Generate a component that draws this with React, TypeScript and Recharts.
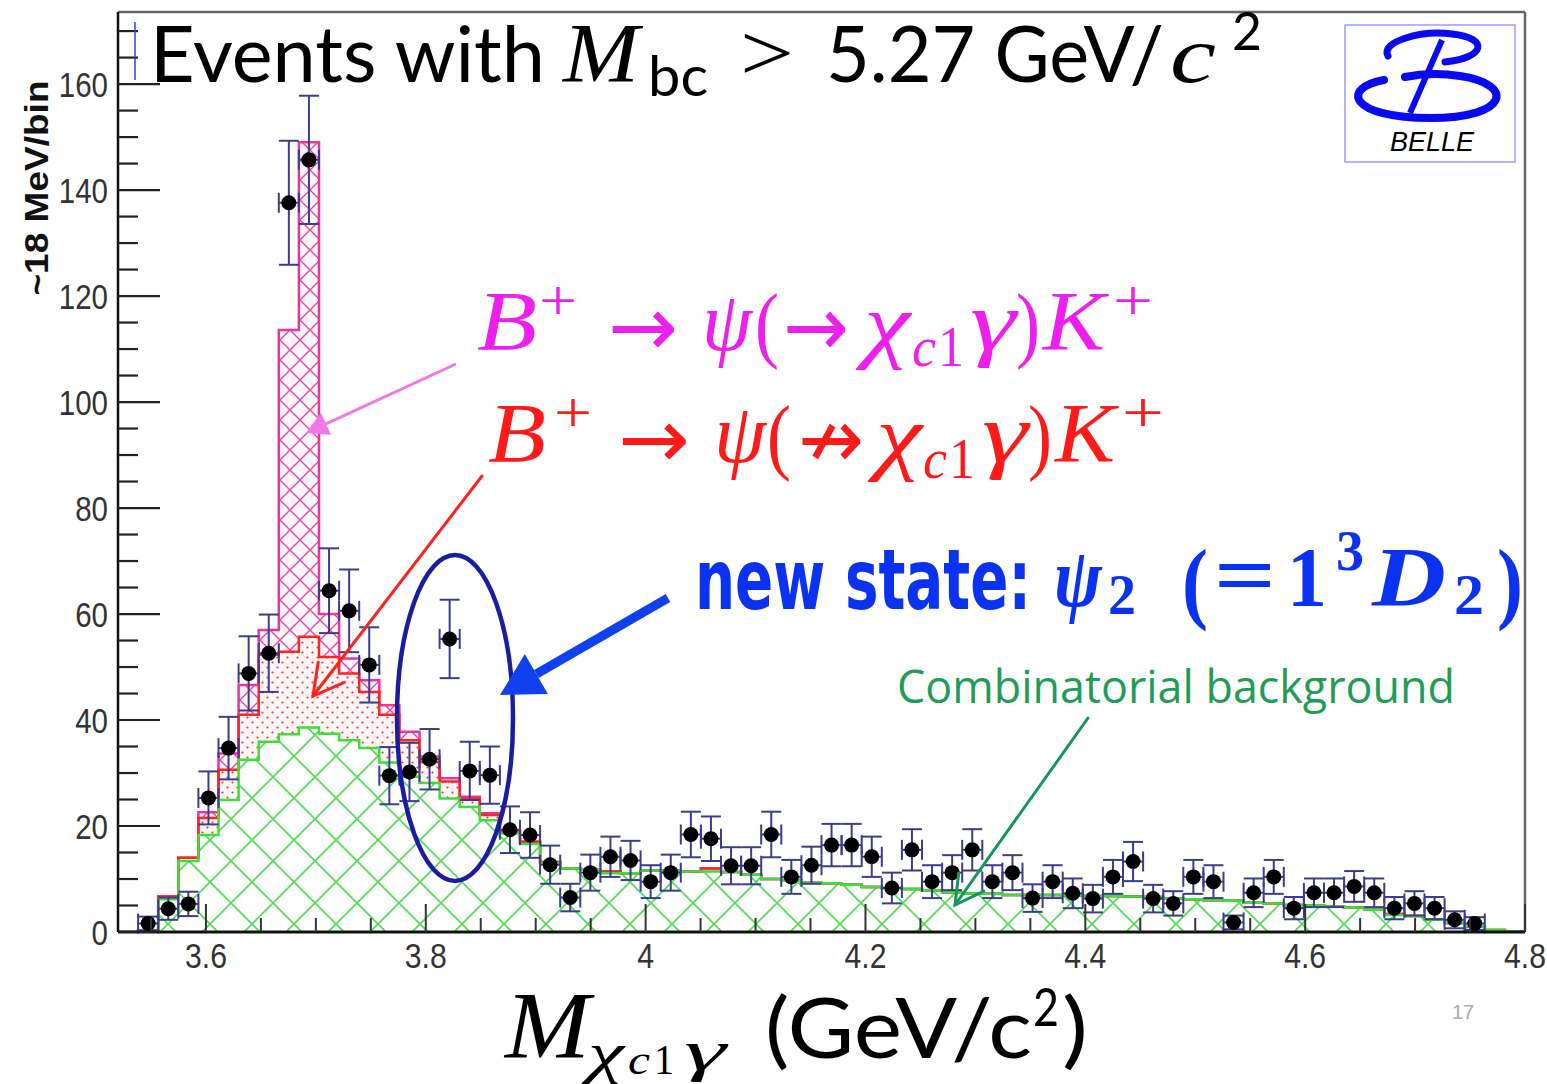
import React from 'react';
import { ComposedChart, Area, Line, Scatter, ErrorBar, XAxis, YAxis, ReferenceLine } from 'recharts';

// ---------- data ----------
const BIN_START = 3.52;
const BIN_END = 4.8;
const N_BINS = 70;

// Combinatorial background (green), per bin
const bkgBins = [
  0, 0.3, 6.2, 13.4, 18.3, 24.9, 32.5, 35.9, 37.3, 38.6,
  37.4, 36.2, 34.7, 32.0, 29.3, 28.1, 25.2, 23.6, 21.1, 18.6,
  16.6, 13.0, 12.0, 11.8, 11.1, 11.1, 11.6, 11.6, 11.4, 11.4,
  11.3, 10.8, 10.0, 9.8, 9.3, 9.2, 8.9, 8.5, 8.3, 8.1,
  7.9, 7.5, 7.3, 7.2, 7.0, 7.0, 7.0, 6.9, 6.8, 6.8,
  6.7, 6.6, 6.3, 6.2, 6.0, 5.9, 5.5, 5.4, 5.1, 5.0,
  4.8, 4.6, 4.2, 3.2, 3.0, 2.3, 1.7, 1.1, 0.4, 0.1,
];
// B+ -> psi(-/-> chi_c1 gamma) K+ (red), per bin
const psiNoChiBins = [
  0, 0, 0.5, 0.6, 3.2, 5.7, 8.5, 16.4, 15.6, 17.1,
  14.5, 12.6, 10.6, 9.0, 6.9, 4.0, 3.2, 1.6, 1.0, 0.3,
  0.4, 0.2, 0, 0, 0.3, 0, 0, 0, 0, 0.6,
  0, 0, 0, 0, 0, 0, 0, 0, 0, 0,
  0, 0, 0, 0, 0, 0, 0, 0, 0, 0,
  0, 0, 0, 0, 0, 0, 0, 0, 0, 0,
  0, 0, 0, 0.2, 0, 0, 0, 0, 0, 0,
];
// B+ -> psi(-> chi_c1 gamma) K+ (magenta), per bin
const psiChiBins = [
  0, 0, 0, 0, 1.1, 3.1, 5.6, 4.7, 60.7, 93.3,
  8.1, 2.8, 2.2, 1.8, 1.6, 1.0, 0.6, 0.3, 0.3, 0.1,
  0.1, 0, 0, 0, 0, 0, 0, 0, 0, 0,
  0, 0, 0, 0, 0, 0, 0, 0, 0, 0,
  0, 0, 0, 0, 0, 0, 0, 0, 0, 0,
  0, 0, 0, 0, 0, 0, 0, 0, 0, 0,
  0, 0, 0, 0, 0, 0, 0, 0, 0, 0,
];

// Data points: first point sits in bin index 1
const POINT_FIRST_BIN = 1;
const pointValues = [
  1.6, 4.4, 5.3, 25.3, 34.7, 48.8, 52.6, 137.6, 145.7, 64.4,
  60.6, 50.4, 29.5, 30.2, 32.6, 55.3, 30.4, 29.6, 19.3, 18.3,
  12.7, 6.5, 11.2, 14.2, 13.5, 9.5, 11.2, 18.4, 17.6, 12.5,
  12.5, 18.4, 10.4, 12.6, 16.4, 16.4, 14.2, 8.3, 15.5, 9.5,
  11.2, 15.5, 9.5, 11.2, 6.4, 9.5, 7.3, 6.3, 10.4, 13.3,
  6.3, 5.4, 10.4, 9.5, 1.8, 7.4, 10.4, 4.5, 7.4, 7.4,
  8.6, 7.4, 4.5, 5.4, 4.5, 2.3, 1.6,
];
const pointErrors = [
  1.3, 2.1, 2.3, 5.0, 5.9, 7.0, 7.3, 11.7, 12.1, 8.0,
  7.8, 7.1, 5.4, 5.5, 5.7, 7.4, 5.5, 5.4, 4.4, 4.3,
  3.6, 2.6, 3.4, 3.8, 3.7, 3.1, 3.4, 4.3, 4.2, 3.5,
  3.5, 4.3, 3.2, 3.5, 4.0, 4.0, 3.8, 2.9, 3.9, 3.1,
  3.3, 3.9, 3.1, 3.3, 2.6, 3.1, 2.8, 2.6, 3.2, 3.7,
  2.6, 2.3, 3.2, 3.1, 1.3, 2.7, 3.2, 2.1, 2.7, 2.7,
  2.9, 2.7, 2.1, 2.3, 2.1, 1.6, 1.2,
];

const yTickValues = [0, 5, 10, 15, 20, 25, 30, 35, 40, 45, 50, 55, 60, 65, 70, 75, 80, 85, 90, 95, 100, 105, 110, 115, 120, 125, 130, 135, 140, 145, 150, 155, 160, 165, 170];
const yMajorTicks = [0, 20, 40, 60, 80, 100, 120, 140, 160];
const xTickValues = [3.55, 3.6, 3.65, 3.7, 3.75, 3.8, 3.85, 3.9, 3.95, 4.0, 4.05, 4.1, 4.15, 4.2, 4.25, 4.3, 4.35, 4.4, 4.45, 4.5, 4.55, 4.6, 4.65, 4.7, 4.75, 4.8];
const xMajorTicks = [3.6, 3.8, 4.0, 4.2, 4.4, 4.6, 4.8];
const xMajorLabels = ['3.6', '3.8', '4', '4.2', '4.4', '4.6', '4.8'];
const Y_MAX = 173.6;

// ---------- tables built from the arrays ----------
const binWidth = (BIN_END - BIN_START) / N_BINS;
const histRows = bkgBins.map((b, i) => ({
  x: BIN_START + i * binWidth,
  bkg: b,
  red: psiNoChiBins[i],
  mag: psiChiBins[i],
  redTot: b + psiNoChiBins[i],
  magTot: b + psiNoChiBins[i] + psiChiBins[i],
}));
histRows.push({ ...histRows[histRows.length - 1], x: BIN_END });

const points = pointValues.map((v, j) => ({
  x: BIN_START + (POINT_FIRST_BIN + j + 0.5) * binWidth,
  y: v,
  ey: pointErrors[j],
  ex: binWidth / 2,
}));

// ---------- ticks ----------
const YTick = (props: any) => {
  const { x, y, payload } = props;
  const v = payload.value;
  const major = yMajorTicks.includes(v);
  return (
    <g>
      <line x1={x} x2={x + (major ? 42 : 20)} y1={y} y2={y} stroke="#222" strokeWidth={2.2} />
      {major && (
        <text
          transform={`translate(${x - 10},${y}) scale(0.82,1)`}
          textAnchor="end"
          dominantBaseline="central"
          fontSize={36}
          fontFamily="'Liberation Sans', Arial, sans-serif"
          fill="#333"
        >
          {v}
        </text>
      )}
    </g>
  );
};

const XTick = (props: any) => {
  const { x, y, payload } = props;
  const v = payload.value;
  const idx = xMajorTicks.findIndex((m) => Math.abs(m - v) < 1e-6);
  const major = idx >= 0;
  return (
    <g>
      <line x1={x} x2={x} y1={y} y2={y - (major ? 28 : 14)} stroke="#333" strokeWidth={2} />
      {major && (
        <text
          transform={`translate(${x},${y + 24}) scale(0.84,1)`}
          textAnchor="middle"
          dominantBaseline="central"
          fontSize={36}
          fontFamily="'Liberation Sans', Arial, sans-serif"
          fill="#333"
        >
          {xMajorLabels[idx]}
        </text>
      )}
    </g>
  );
};

const Dot = (p: any) => <circle cx={p.cx} cy={p.cy} r={7.5} fill="#000" />;

// ---------- annotation helpers ----------
function Arrow({ x1, y1, x2, y2, color, w, head, filled }: any) {
  const a = Math.atan2(y2 - y1, x2 - x1);
  const hl = head;
  const hw = head * 0.55;
  const bx = x2 - hl * Math.cos(a);
  const by = y2 - hl * Math.sin(a);
  const lx = bx + hw * Math.sin(a);
  const ly = by - hw * Math.cos(a);
  const rx = bx - hw * Math.sin(a);
  const ry = by + hw * Math.cos(a);
  if (filled) {
    return (
      <g>
        <line x1={x1} y1={y1} x2={bx} y2={by} stroke={color} strokeWidth={w} />
        <polygon points={`${x2},${y2} ${lx},${ly} ${rx},${ry}`} fill={color} />
      </g>
    );
  }
  return (
    <g fill="none" stroke={color} strokeWidth={w} strokeLinecap="round">
      <line x1={x1} y1={y1} x2={x2} y2={y2} />
      <polyline points={`${lx},${ly} ${x2},${y2} ${rx},${ry}`} />
    </g>
  );
}

const SERIF = "'Liberation Serif', 'Times New Roman', serif";
const GILL = "Lato, 'Open Sans', sans-serif";
const ARROWF = "'DejaVu Sans', sans-serif";

// one piece of text, stretched to a given width
function T({ x, y, s, w, it, bold, fam, fill, children }: any) {
  return (
    <text
      x={x}
      y={y}
      fontSize={s}
      fontStyle={it ? 'italic' : 'normal'}
      fontWeight={bold ? 'bold' : 'normal'}
      fontFamily={fam || SERIF}
      fill={fill}
      textLength={w}
      lengthAdjust="spacingAndGlyphs"
    >
      {children}
    </text>
  );
}

function Overlay() {
  const MAG = '#ee1fee';
  const RED = '#ff1a1a';
  const BLUE = '#0b32f0';
  return (
    <svg
      width={1547}
      height={1084}
      style={{ position: 'absolute', left: 0, top: 0, pointerEvents: 'none' }}
    >
      {/* y axis title */}
      <text
        transform="translate(48,188) rotate(-90)"
        textAnchor="middle"
        fontSize={34}
        fontWeight="bold"
        fontFamily="'Liberation Sans', Arial, sans-serif"
        fill="#111"
        textLength={215}
        lengthAdjust="spacingAndGlyphs"
      >
        ~18 MeV/bin
      </text>

      {/* title */}
      <T x={150} y={82} s={78} w={395} fam={GILL} fill="#000">Events with</T>
      <T x={563} y={82} s={84} w={76} it fill="#000">M</T>
      <T x={648} y={96} s={56} w={60} fam={GILL} fill="#000">bc</T>
      <T x={740} y={80} s={80} w={54} fill="#000">&gt;</T>
      <T x={826} y={82} s={78} w={338} fam={GILL} fill="#000">5.27 GeV/</T>
      <T x={1170} y={82} s={80} w={46} it fill="#000">c</T>
      <T x={1232} y={50} s={52} w={30} fam={GILL} fill="#000">2</T>

      {/* magenta label */}
      <T x={477} y={350} s={84} w={60} it fill={MAG}>B</T>
      <T x={539} y={320} s={56} w={38} fill={MAG}>+</T>
      <T x={608} y={356} s={84} w={70} fam={ARROWF} fill={MAG}>→</T>
      <T x={702} y={350} s={84} w={50} it fill={MAG}>ψ</T>
      <T x={755} y={352} s={84} w={24} fill={MAG}>(</T>
      <T x={783} y={356} s={84} w={66} fam={ARROWF} fill={MAG}>→</T>
      <T x={864} y={352} s={84} w={46} it fill={MAG}>χ</T>
      <T x={912} y={366} s={56} w={24} it fill={MAG}>c</T>
      <T x={938} y={366} s={56} w={26} fill={MAG}>1</T>
      <T x={970} y={350} s={84} w={46} it fill={MAG}>γ</T>
      <T x={1016} y={352} s={84} w={24} fill={MAG}>)</T>
      <T x={1043} y={350} s={84} w={62} it fill={MAG}>K</T>
      <T x={1113} y={320} s={56} w={40} fill={MAG}>+</T>

      {/* red label */}
      <T x={488} y={462} s={84} w={58} it fill={RED}>B</T>
      <T x={554} y={432} s={56} w={38} fill={RED}>+</T>
      <T x={618} y={468} s={84} w={72} fam={ARROWF} fill={RED}>→</T>
      <T x={714} y={462} s={84} w={52} it fill={RED}>ψ</T>
      <T x={767} y={464} s={84} w={24} fill={RED}>(</T>
      <T x={798} y={468} s={84} w={66} fam={ARROWF} fill={RED}>↛</T>
      <T x={876} y={464} s={84} w={46} it fill={RED}>χ</T>
      <T x={923} y={478} s={56} w={24} it fill={RED}>c</T>
      <T x={949} y={478} s={56} w={26} fill={RED}>1</T>
      <T x={982} y={462} s={84} w={46} it fill={RED}>γ</T>
      <T x={1028} y={464} s={84} w={24} fill={RED}>)</T>
      <T x={1055} y={462} s={84} w={60} it fill={RED}>K</T>
      <T x={1122} y={432} s={56} w={42} fill={RED}>+</T>

      {/* blue label */}
      <T x={695} y={609} s={84} w={336} bold fam="'DejaVu Sans Condensed', 'DejaVu Sans', sans-serif" fill={BLUE}>
        new state:
      </T>
      <T x={1054} y={606} s={84} w={48} it bold fill={BLUE}>ψ</T>
      <T x={1108} y={614} s={56} w={28} bold fill={BLUE}>2</T>
      <T x={1182} y={612} s={90} w={26} bold fill={BLUE}>(</T>
      <T x={1214} y={604} s={84} w={62} bold fill={BLUE}>=</T>
      <T x={1287} y={606} s={84} w={40} bold fill={BLUE}>1</T>
      <T x={1336} y={570} s={56} w={28} bold fill={BLUE}>3</T>
      <T x={1372} y={606} s={84} w={74} it bold fill={BLUE}>D</T>
      <T x={1454} y={614} s={56} w={30} bold fill={BLUE}>2</T>
      <T x={1497} y={612} s={90} w={26} bold fill={BLUE}>)</T>

      {/* green label */}
      <T x={897} y={703} s={46} w={558} fam="'Open Sans', Lato, sans-serif" fill="#1f9d57">
        Combinatorial background
      </T>

      {/* ellipse around the new state */}
      <ellipse cx={455} cy={718} rx={58} ry={163} fill="none" stroke="#1c1ca3" strokeWidth={4.5} />

      {/* arrows */}
      <Arrow x1={456} y1={364} x2={306} y2={433} color="#f078e6" w={3} head={22} filled />
      <Arrow x1={482} y1={476} x2={313} y2={696} color="#ff2020" w={3} head={30} />
      <Arrow x1={668} y1={598} x2={500} y2={695} color="#1040f0" w={9} head={42} filled />
      <Arrow x1={1088} y1={718} x2={955} y2={905} color="#17955c" w={3} head={28} />

      {/* small blue bracket at the top of the axis */}
      <line x1={135} y1={22} x2={135} y2={80} stroke="#3040d0" strokeWidth={1.5} />

      {/* Belle logo */}
      <rect x={1345} y={25} width={170} height={137} fill="#fff" stroke="#9b9bff" strokeWidth={1.5} />
      <path d="M1388,56 C1380,42 1420,30 1452,34 C1490,38 1485,58 1445,62" fill="none" stroke="#0a0af2" strokeWidth={7} strokeLinecap="round" />
      <path d="M1384,80 C1340,88 1350,118 1430,118 C1510,118 1515,84 1460,76 C1440,73 1420,74 1405,77" fill="none" stroke="#0a0af2" strokeWidth={8} strokeLinecap="round" />
      <line x1={1442} y1={40} x2={1410} y2={113} stroke="#0a0af2" strokeWidth={6} />
      <text x={1390} y={151} fontSize={27} fontStyle="italic" fontFamily="'Liberation Sans', Arial, sans-serif" fill="#000" textLength={84} lengthAdjust="spacingAndGlyphs">
        BELLE
      </text>

      {/* page number */}
      <text x={1452} y={1019} fontSize={20} fontFamily="'Liberation Sans', Arial, sans-serif" fill="#aaa">
        17
      </text>

      {/* x axis title */}
      <T x={505} y={1058} s={96} w={85} it fill="#000">M</T>
      <T x={588} y={1072} s={56} w={36} it fill="#000">χ</T>
      <T x={628} y={1074} s={42} w={22} it fill="#000">c</T>
      <T x={654} y={1074} s={42} w={20} fill="#000">1</T>
      <T x={684} y={1070} s={56} w={42} it fill="#000">γ</T>
      <T x={765} y={1058} s={84} w={267} fam={GILL} fill="#000">(GeV/c</T>
      <T x={1033} y={1026} s={52} w={26} fam={GILL} fill="#000">2</T>
      <T x={1062} y={1058} s={84} w={26} fam={GILL} fill="#000">)</T>
    </svg>
  );
}

export default function App() {
  return (
    <div style={{ position: 'absolute', left: 0, top: 0, width: 1547, height: 1084, background: '#fff' }}>
      <ComposedChart
        width={1547}
        height={1084}
        data={histRows}
        margin={{ top: 12, right: 22, bottom: 92, left: 18 }}
      >
        <defs>
          <pattern id="greenHatch" width={42} height={42} patternUnits="userSpaceOnUse">
            <path d="M0,0 L42,42 M42,0 L0,42" stroke="#55dc55" strokeWidth={1.7} fill="none" />
          </pattern>
          <pattern id="magHatch" width={20} height={20} patternUnits="userSpaceOnUse">
            <rect width={20} height={20} fill="rgba(255,215,240,0.25)" />
            <path d="M0,0 L20,20 M20,0 L0,20" stroke="#e0449c" strokeWidth={1.3} fill="none" />
          </pattern>
          <pattern id="redDots" width={10} height={10} patternUnits="userSpaceOnUse">
            <rect width={10} height={10} fill="rgba(255,225,225,0.35)" />
            <circle cx={2.5} cy={2.5} r={1.1} fill="#e23a3a" />
            <circle cx={7.5} cy={7.5} r={1.1} fill="#e23a3a" />
          </pattern>
        </defs>
        <XAxis
          dataKey="x"
          type="number"
          domain={[BIN_START, BIN_END]}
          allowDataOverflow
          ticks={xTickValues}
          interval={0}
          tick={<XTick />}
          tickLine={false}
          tickSize={0}
          tickMargin={0}
          height={60}
          axisLine={{ stroke: '#111', strokeWidth: 3 }}
        />
        <YAxis
          type="number"
          domain={[0, Y_MAX]}
          allowDataOverflow
          ticks={yTickValues}
          interval={0}
          tick={<YTick />}
          tickLine={false}
          tickSize={0}
          tickMargin={0}
          width={100}
          axisLine={{ stroke: '#111', strokeWidth: 2.5 }}
        />
        <ReferenceLine y={Y_MAX} stroke="#666" strokeWidth={2.5} />
        <ReferenceLine x={BIN_END} stroke="#666" strokeWidth={2.5} />

        <Area type="stepAfter" dataKey="bkg" stackId="h" stroke="none" fill="url(#greenHatch)" fillOpacity={1} isAnimationActive={false} />
        <Area type="stepAfter" dataKey="red" stackId="h" stroke="none" fill="url(#redDots)" fillOpacity={1} isAnimationActive={false} />
        <Area type="stepAfter" dataKey="mag" stackId="h" stroke="none" fill="url(#magHatch)" fillOpacity={1} isAnimationActive={false} />

        <Line type="stepAfter" dataKey="magTot" stroke="#e8369c" strokeWidth={2.5} dot={false} isAnimationActive={false} />
        <Line type="stepAfter" dataKey="redTot" stroke="#ff2424" strokeWidth={2.5} dot={false} isAnimationActive={false} />
        <Line type="stepAfter" dataKey="bkg" stroke="#39e039" strokeWidth={2.5} dot={false} isAnimationActive={false} />

        <Scatter data={points} dataKey="y" shape={<Dot />} isAnimationActive={false}>
          <ErrorBar dataKey="ey" direction="y" width={10} stroke="#3c3c8c" strokeWidth={2} />
          <ErrorBar dataKey="ex" direction="x" width={10} stroke="#3c3c8c" strokeWidth={2} />
        </Scatter>
      </ComposedChart>
      <Overlay />
    </div>
  );
}
